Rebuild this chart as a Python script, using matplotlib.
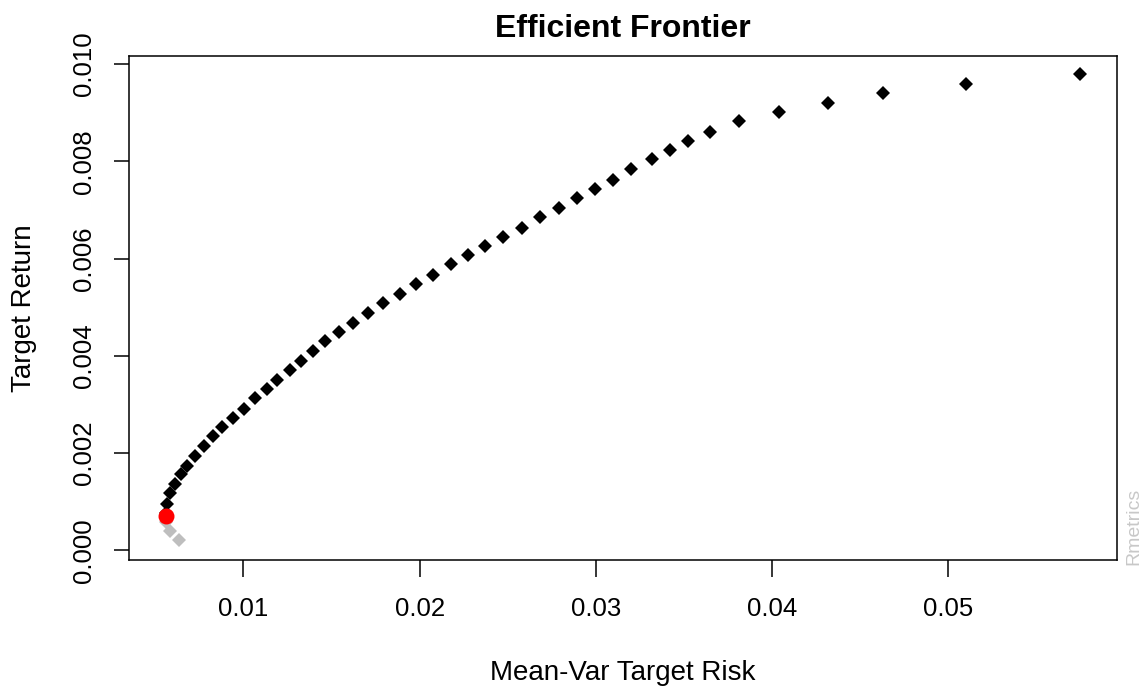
import matplotlib
matplotlib.use("Agg")
import matplotlib.pyplot as plt

plt.rcParams['font.family'] = ['Liberation Sans', 'DejaVu Sans']

# frontier points (risk, return)
risk_inefficient = [0.00637, 0.00584, 0.00564]
return_inefficient = [0.000206, 0.000395, 0.000576]

risk_efficient = [0.00560, 0.00569, 0.00585, 0.00611, 0.00646, 0.00682, 0.00724, 0.00777,
                  0.00829, 0.00881, 0.00942, 0.01002, 0.01064, 0.01133, 0.01193, 0.01265,
                  0.01326, 0.01394, 0.01465, 0.01543, 0.01622, 0.01708, 0.01794, 0.01891,
                  0.01978, 0.02075, 0.02177, 0.02273, 0.02371, 0.02475, 0.02580, 0.02683,
                  0.02790, 0.02893, 0.02997, 0.03100, 0.03197, 0.03317, 0.03421, 0.03525,
                  0.03648, 0.03814, 0.04041, 0.04317, 0.04631, 0.05102, 0.05746]
return_efficient = [0.000771, 0.000960, 0.001182, 0.001373, 0.001564, 0.001743, 0.001936, 0.002154,
                    0.002343, 0.002532, 0.002724, 0.002913, 0.003131, 0.003324, 0.003505, 0.003704,
                    0.003895, 0.004107, 0.004300, 0.004491, 0.004682, 0.004876, 0.005087, 0.005279,
                    0.005472, 0.005663, 0.005883, 0.006074, 0.006265, 0.006450, 0.006635, 0.006861,
                    0.007046, 0.007240, 0.007431, 0.007620, 0.007846, 0.008041, 0.008232, 0.008417,
                    0.008602, 0.008828, 0.009013, 0.009205, 0.009398, 0.009589, 0.009801]

min_var_risk = 0.005597
min_var_return = 0.000709

x_ticks = [0.01, 0.02, 0.03, 0.04, 0.05]
y_ticks = [0.000, 0.002, 0.004, 0.006, 0.008, 0.010]

fig = plt.figure(figsize=(11.44, 6.87), dpi=100)
ax = fig.add_axes([0.1128, 0.1849, 0.8633, 0.7336])

ax.plot(risk_inefficient, return_inefficient, 'D', color='#bebebe', markersize=6.8, markeredgewidth=0)
ax.plot(risk_efficient, return_efficient, 'D', color='black', markersize=6.8, markeredgewidth=0)
ax.plot([min_var_risk], [min_var_return], 'o', color='red', markersize=11.5, markeredgewidth=0)

ax.set_xlim(0.003515, 0.059555)
ax.set_ylim(-0.000195, 0.010164)

ax.set_xticks(x_ticks)
ax.set_xticklabels(['%.2f' % v for v in x_ticks])
ax.set_yticks(y_ticks)
ax.set_yticklabels(['%.3f' % v for v in y_ticks], rotation=90, va='center')

ax.tick_params(axis='x', length=12, width=1.1, pad=15, labelsize=18.5)
ax.tick_params(axis='y', length=11, width=1.1, pad=13, labelsize=18.5)
for s in ax.spines.values():
    s.set_linewidth(1.1)

ax.set_title('Efficient Frontier', fontsize=23, fontweight='bold', pad=14)
ax.set_xlabel('Mean-Var Target Risk', fontsize=20, labelpad=28)
ax.set_ylabel('Target Return', fontsize=20, labelpad=25)

# small watermark on the right margin
fig.text(0.9915, 0.234, 'Rmetrics', rotation=90, color='#c8c8c8', fontsize=14,
         ha='center', va='center')

fig.savefig('out.png', dpi=100)
